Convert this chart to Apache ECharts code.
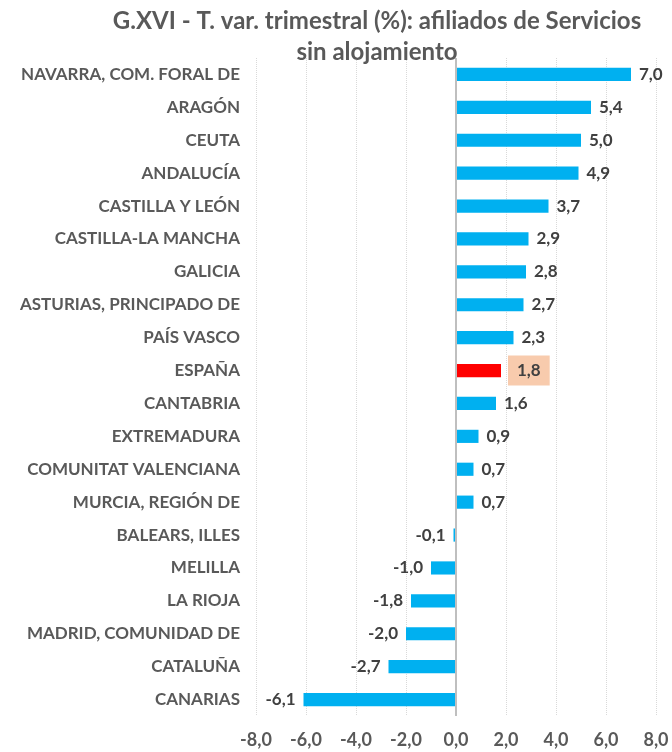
<!DOCTYPE html>
<html>
<head>
<meta charset="utf-8">
<script src="https://cdn.jsdelivr.net/npm/echarts@6/dist/echarts.min.js"></script>
<style>
  html, body { margin: 0; padding: 0; background: #fff; }
  #main { width: 672px; height: 752px; }
</style>
</head>
<body>
<div id="main"></div>
<script>
// regiones y tasa de variacion trimestral (%)
var regiones = [
  'NAVARRA, COM. FORAL DE', 'ARAGÓN', 'CEUTA', 'ANDALUCÍA', 'CASTILLA Y LEÓN',
  'CASTILLA-LA MANCHA', 'GALICIA', 'ASTURIAS, PRINCIPADO DE', 'PAÍS VASCO', 'ESPAÑA',
  'CANTABRIA', 'EXTREMADURA', 'COMUNITAT VALENCIANA', 'MURCIA, REGIÓN DE', 'BALEARS, ILLES',
  'MELILLA', 'LA RIOJA', 'MADRID, COMUNIDAD DE', 'CATALUÑA', 'CANARIAS'
];
var tasas = [7.0, 5.4, 5.0, 4.9, 3.7, 2.9, 2.8, 2.7, 2.3, 1.8,
             1.6, 0.9, 0.7, 0.7, -0.1, -1.0, -1.8, -2.0, -2.7, -6.1];
var ejeX = [-8, -6, -4, -2, 0, 2, 4, 6, 8];

var fuente = 'Lato, "Open Sans", sans-serif';
function coma(v) { return Number(v).toFixed(1).replace('.', ','); }

var myChart = echarts.init(document.getElementById('main'));

var datos = tasas.map(function (v, i) {
  var esp = regiones[i] === 'ESPAÑA';
  var d = {
    value: v,
    itemStyle: { color: esp ? '#FF0000' : '#00B0F0' },
    label: { position: v < 0 ? 'left' : 'right' }
  };
  if (esp) {
    d.label.backgroundColor = '#F8CBAD';
    d.label.padding = [7, 9, 6, 9];
    d.label.distance = 7;
  }
  return d;
});

var option = {
  animation: false,
  title: {
    text: 'G.XVI - T. var. trimestral (%): afiliados de Servicios\nsin alojamiento',
    left: 372,
    top: 1,
    textAlign: 'center',
    textStyle: {
      fontFamily: fuente, fontSize: 24, fontWeight: 'bold',
      color: '#595959', lineHeight: 31
    }
  },
  grid: { left: 256, right: 16, top: 58, bottom: 36 },
  xAxis: {
    type: 'value',
    min: ejeX[0],
    max: ejeX[ejeX.length - 1],
    interval: 2,
    axisLine: { show: false },
    axisTick: { show: false },
    splitLine: { show: true, lineStyle: { color: '#D9D9D9', type: 'dotted', width: 1 } },
    axisLabel: {
      margin: 15,
      formatter: coma,
      fontFamily: fuente, fontSize: 18, fontWeight: 'bold', color: '#595959'
    }
  },
  yAxis: {
    type: 'category',
    inverse: true,
    data: regiones,
    axisLine: { show: false, onZero: false },
    axisTick: { show: false },
    axisLabel: {
      margin: 16,
      fontFamily: fuente, fontSize: 17, fontWeight: 'bold', color: '#595959'
    }
  },
  series: [{
    type: 'bar',
    data: datos,
    barWidth: '40%',
    label: {
      show: true,
      distance: 8,
      formatter: function (p) { return coma(p.value); },
      fontFamily: fuente, fontSize: 17, fontWeight: 'bold', color: '#404040'
    },
    markLine: {
      silent: true,
      symbol: 'none',
      label: { show: false },
      lineStyle: { color: '#BFBFBF', type: 'solid', width: 2 },
      data: [{ xAxis: 0 }]
    }
  }]
};

myChart.setOption(option);
</script>
</body>
</html>
